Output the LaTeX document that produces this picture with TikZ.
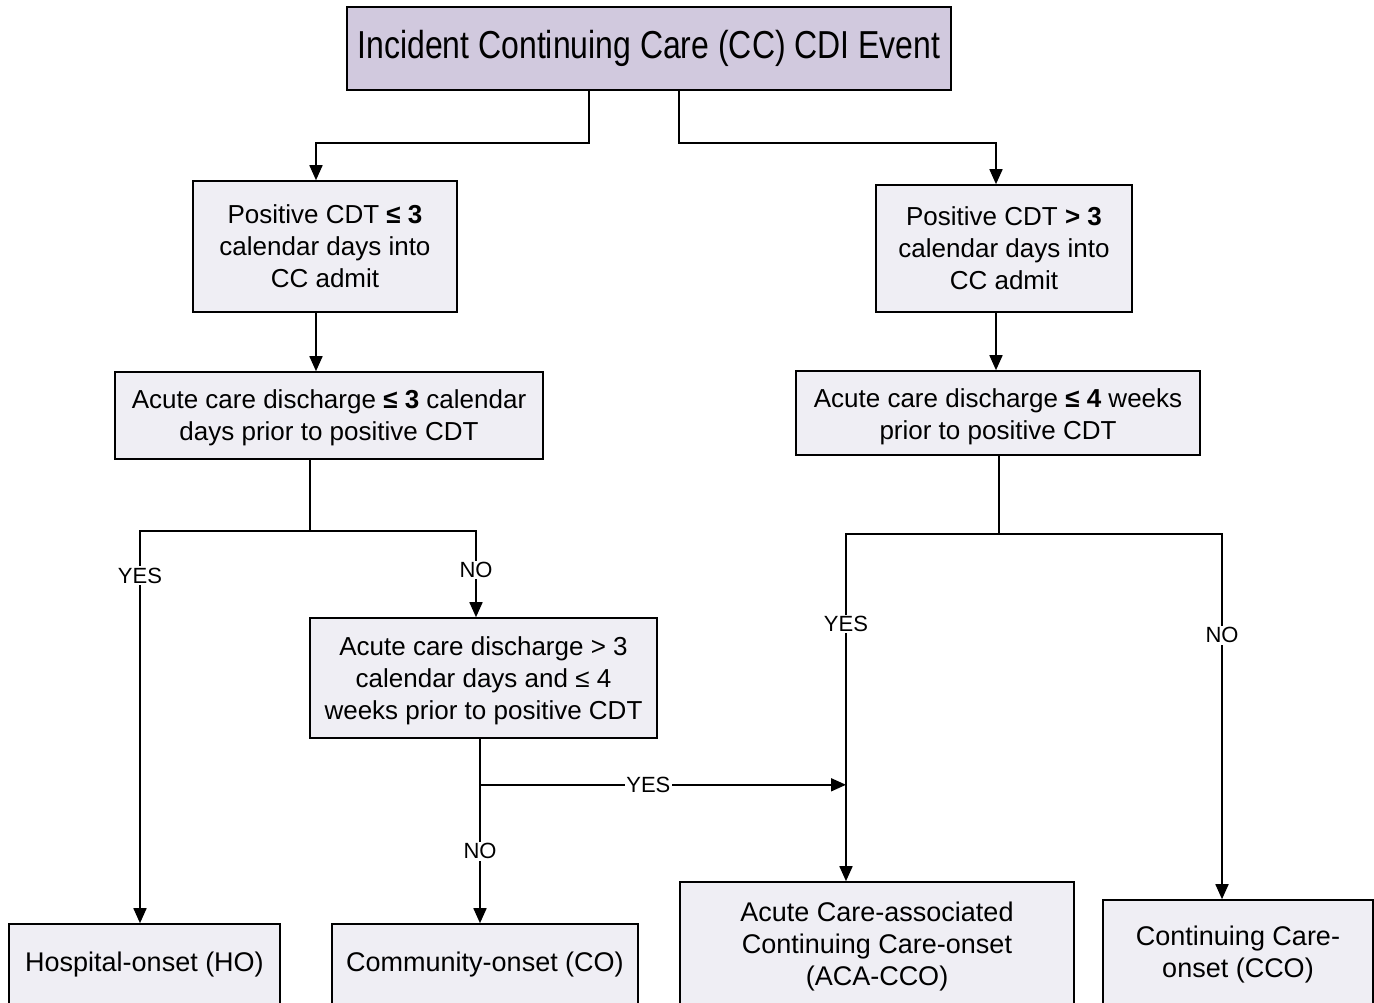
\documentclass[tikz,border=0pt]{standalone}
\usepackage{fontspec}
\setmainfont{Liberation Sans}
\newfontfamily\titlefont[FakeStretch=0.82]{Liberation Sans}
\usetikzlibrary{arrows.meta,calc}
\definecolor{titlefill}{RGB}{209,201,222}
\definecolor{boxfill}{RGB}{239,238,244}
\begin{document}
\begin{tikzpicture}[x=1pt,y=-1pt,
  box/.style={draw=black, line width=1.6pt, fill=boxfill, align=center, inner sep=0pt, font=\fontsize{26}{32}\selectfont},
  endbox/.style={box, font=\fontsize{27}{32}\selectfont},
  ttl/.style={box, fill=titlefill, font=\titlefont\fontsize{39}{44}\selectfont},
  ln/.style={line width=1.7pt},
  arr/.style={line width=1.7pt, -{Triangle[length=15pt,width=13pt]}},
  lab/.style={fill=white, inner sep=1.5pt, font=\fontsize{22}{24}\selectfont}]
\useasboundingbox (0,0) rectangle (1374,1003);
\clip (0,0) rectangle (1374,1003);

\node[ttl, minimum width=604pt, minimum height=83pt] (title) at (649,48.5) {Incident Continuing Care (CC) CDI Event};

\node[box, minimum width=264pt, minimum height=131pt] (A1) at (325,246.5) {Positive CDT \textbf{≤ 3}\\calendar days into\\CC admit};
\node[box, minimum width=256pt, minimum height=127pt] (B1) at (1004,248.5) {Positive CDT \textbf{> 3}\\calendar days into\\CC admit};

\node[box, minimum width=428pt, minimum height=87pt] (A2) at (329,415.5) {\rule{0pt}{24pt}Acute care discharge \textbf{≤ 3} calendar\\days prior to positive CDT};
\node[box, minimum width=404pt, minimum height=84pt] (B2) at (998,413) {\rule{0pt}{26pt}Acute care discharge \textbf{≤ 4} weeks\\prior to positive CDT};

\node[box, minimum width=347pt, minimum height=120pt] (A3) at (483.5,678) {\rule{0pt}{24pt}Acute care discharge > 3\\calendar days and ≤ 4\\weeks prior to positive CDT};

\node[endbox, minimum width=271pt, minimum height=82pt] (HO) at (144.5,965) {Hospital-onset (HO)};
\node[endbox, minimum width=306pt, minimum height=82pt] (CO) at (485,965) {Community-onset (CO)};
\node[endbox, minimum width=394pt, minimum height=124pt] (ACA) at (877,944) {\rule{0pt}{24pt}Acute Care-associated\\Continuing Care-onset\\(ACA-CCO)};
\node[endbox, minimum width=270pt, minimum height=104pt] (CCO) at (1238,952) {\rule{0pt}{24pt}Continuing Care-\\onset (CCO)};

% title to first level
\draw[arr] ([xshift=-60pt]title.south) -- ++(0,52) -| ([xshift=-9pt]A1.north);
\draw[arr] ([xshift=30pt]title.south) -- ++(0,52) -| ([xshift=-8pt]B1.north);

% first to second level
\draw[arr] ([xshift=-9pt]A1.south) -- ([xshift=-13pt]A2.north);
\draw[arr] ([xshift=-8pt]B1.south) -- ([xshift=-2pt]B2.north);

% left split
\coordinate (a2s) at ($([xshift=-19pt]A2.south)+(0,71)$);
\draw[ln] ([xshift=-19pt]A2.south) -- (a2s);
\draw[arr] (a2s) -| node[lab,pos=0.557]{YES} ([xshift=-4.5pt]HO.north);
\draw[arr] (a2s) -| node[lab,pos=0.727]{NO} ([xshift=-7.5pt]A3.north);

% A3 outputs
\coordinate (acaN) at ([xshift=-31pt]ACA.north);
\coordinate (a3y) at ($([xshift=-3.5pt]A3.south)+(0,46)$);
\draw[arr] ([xshift=-3.5pt]A3.south) -- node[lab,pos=0.61]{NO} ([xshift=-5pt]CO.north);
\draw[arr] (a3y) -- node[lab,pos=0.46]{YES} (a3y -| acaN);

% right split
\coordinate (b2s) at ($([xshift=1pt]B2.south)+(0,78)$);
\draw[ln] ([xshift=1pt]B2.south) -- (b2s);
\draw[arr] (b2s) -| node[lab,pos=0.63]{YES} (acaN);
\draw[arr] (b2s) -| node[lab,pos=0.639]{NO} ([xshift=-16pt]CCO.north);
\end{tikzpicture}
\end{document}
